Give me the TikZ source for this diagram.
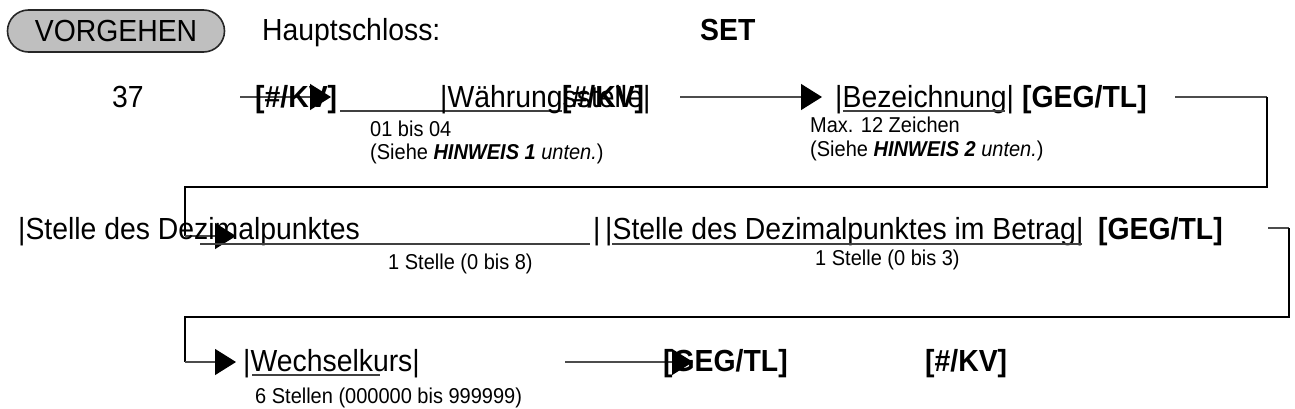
\documentclass[tikz,border=0pt]{standalone}
\usepackage{fontspec}
\setmainfont{Liberation Sans}[FakeStretch=0.93]
\usetikzlibrary{arrows.meta}
\begin{document}
\begin{tikzpicture}[x=1pt,y=-1pt,
 txt/.style={anchor=base west,inner sep=0pt,font=\fontsize{30.5}{32}\selectfont},
 btxt/.style={anchor=base west,inner sep=0pt,font=\fontsize{30.5}{32}\selectfont\bfseries},
 small/.style={anchor=base west,inner sep=0pt,font=\fontsize{21.5}{23}\selectfont},
 thinline/.style={draw=black!70,line width=1.3pt},
 loopline/.style={draw=black,line width=2.6pt},
 arr/.style={-{Triangle[length=21pt,width=26pt,color=black]}},
 uline/.style={draw=black!75,line width=1.3pt}]
\useasboundingbox (0,0) rectangle (1295,409);
% header
\node[draw=black!85,fill=black!25,rounded corners=21pt,minimum width=217pt,minimum height=42pt,line width=1.6pt,inner sep=0pt,font=\fontsize{30.5}{32}\selectfont] (vor) at (116,31) {VORGEHEN};
\node[txt] (haupt) at (262,41) {Hauptschloss:};
\node[btxt] (set) at (700,41) {SET};
% row 1
\coordinate (a1s) at (240,97);
\coordinate (a1e) at (331,97);
\draw[thinline,arr] (a1s) -- (a1e);
\node[txt] (n37) at (112,108) {37};
\node[btxt] (kv1) at (255,108) {[\#/KV]};
\coordinate (u1s) at (340,111);
\coordinate (u1e) at (562,111);
\draw[uline] (u1s) -- (u1e);
\node[txt] (wae) at (440,108) {|Währungsstelle|};
\node[btxt] (kv2) at (562,108) {[\#/KV]};
\coordinate (a2s) at (680,97);
\coordinate (a2e) at (822,97);
\draw[thinline,arr] (a2s) -- (a2e);
\node[txt] (bez) at (835,108) {|Bezeichnung|};
\coordinate (u2s) at (843,111);
\coordinate (u2e) at (1005,111);
\draw[uline] (u2s) -- (u2e);
\node[btxt] (geg1) at (1022,108) {[GEG/TL]};
\node[small] (s1a) at (370,136) {01 bis 04};
\node[small] (s1b) at (370,159) {(Siehe \textbf{\itshape HINWEIS 1} \textit{unten.})};
\node[small] (s2a) at (810,132) {Max. 12 Zeichen};
\node[small] (s2b) at (810,157) {(Siehe \textbf{\itshape HINWEIS 2} \textit{unten.})};
% loop 1
\coordinate (l1a) at (1175,97);
\coordinate (l1b) at (1267,97);
\coordinate (l1c) at (1267,187);
\coordinate (l1d) at (185,187);
\coordinate (l1e) at (185,236);
\coordinate (l1f) at (236,236);
\draw[thinline] (l1a) -- (l1b);
\draw[loopline] (l1b) -- (l1c) -- (l1d) -- (l1e);
\draw[thinline,arr] (l1e) -- (l1f);
% row 2
\node[txt] (st1) at (18,239) {|Stelle des Dezimalpunktes};
\coordinate (u3s) at (200,244);
\coordinate (u3e) at (590,244);
\draw[uline] (u3s) -- (u3e);
\node[txt] (bar) at (593,239) {|};
\node[txt] (st2) at (605,239) {|Stelle des Dezimalpunktes im Betrag|};
\coordinate (u4s) at (612,244);
\coordinate (u4e) at (1082,244);
\draw[uline] (u4s) -- (u4e);
\node[btxt] (geg2) at (1098,239) {[GEG/TL]};
\node[small] (s3) at (388,269) {1 Stelle (0 bis 8)};
\node[small] (s4) at (815,265) {1 Stelle (0 bis 3)};
% loop 2
\coordinate (l2a) at (1268,228);
\coordinate (l2b) at (1289,228);
\coordinate (l2c) at (1289,317);
\coordinate (l2d) at (185,317);
\coordinate (l2e) at (185,362);
\coordinate (l2f) at (236,362);
\draw[thinline] (l2a) -- (l2b);
\draw[loopline] (l2b) -- (l2c) -- (l2d) -- (l2e);
\draw[thinline,arr] (l2e) -- (l2f);
% row 3
\node[txt] (wk) at (243,371) {|Wechselkurs|};
\coordinate (u5s) at (252,375);
\coordinate (u5e) at (380,375);
\draw[uline] (u5s) -- (u5e);
\node[small] (s5) at (255,403) {6 Stellen (000000 bis 999999)};
\coordinate (a3s) at (565,362);
\coordinate (a3e) at (693,362);
\draw[thinline,arr] (a3s) -- (a3e);
\node[btxt] (geg3) at (663,371) {[GEG/TL]};
\node[btxt] (kv3) at (925,371) {[\#/KV]};
\end{tikzpicture}
\end{document}
